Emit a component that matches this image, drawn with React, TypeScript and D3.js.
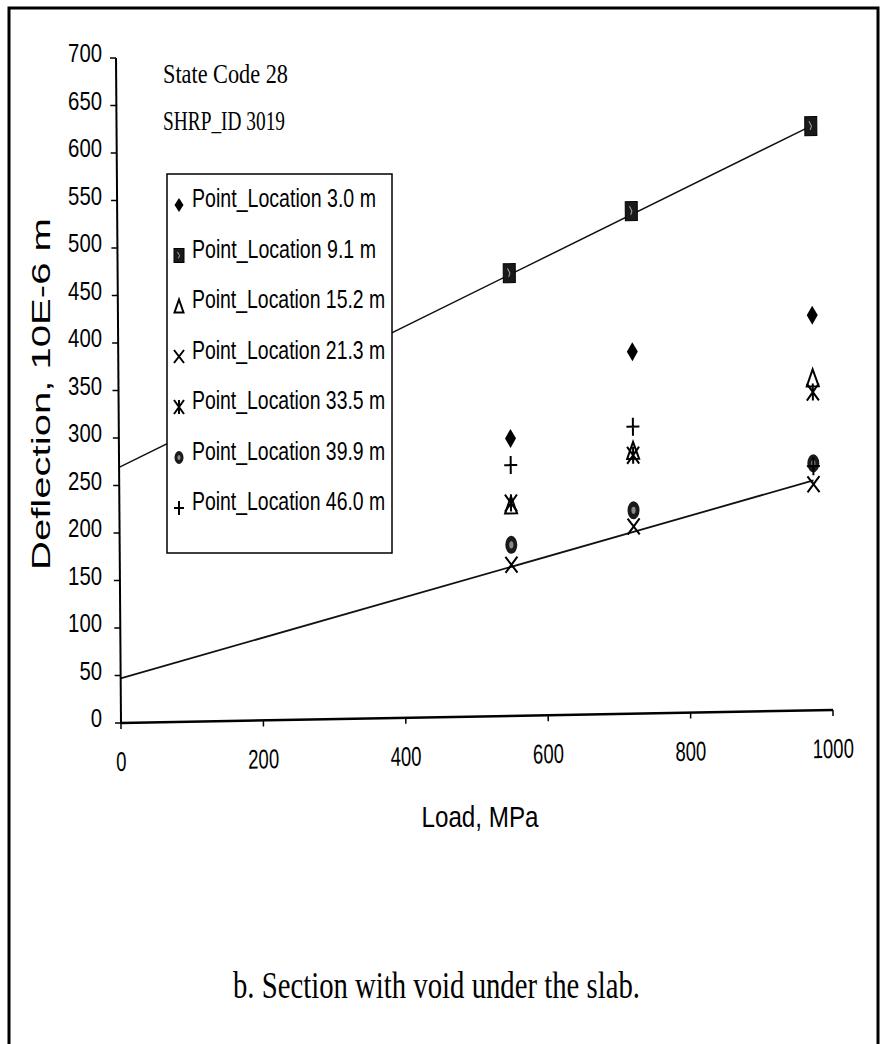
import React from 'react';
import * as d3 from 'd3';

// ---- data ----
const loads = [550, 722, 975];
const loc30 = [292, 381, 416];
const loc91 = [466, 529, 615];
const loc152 = [222, 277, 350];
const loc213 = [159, 197, 238];
const loc335 = [224, 272, 335];
const loc399 = [180, 214, 260];
const loc460 = [264, 302, 257];
const seriesLabels = [
  'Point_Location 3.0 m',
  'Point_Location 9.1 m',
  'Point_Location 15.2 m',
  'Point_Location 21.3 m',
  'Point_Location 33.5 m',
  'Point_Location 39.9 m',
  'Point_Location 46.0 m',
];
const seriesShapes = ['diamond', 'square', 'triangle', 'x', 'star', 'circle', 'plus'];
const trendLoads = [0, 975];
const trend91 = [269, 615];
const trend213 = [47, 242];
const yTickValues = [0, 50, 100, 150, 200, 250, 300, 350, 400, 450, 500, 550, 600, 650, 700];
const xTickValues = [0, 200, 400, 600, 800, 1000];

const seriesValues = [loc30, loc91, loc152, loc213, loc335, loc399, loc460];

// ---- layout ----
const W = 882;
const H = 1044;
const ox = 121;
const oy = 723;
const x = d3.scaleLinear().domain([0, 1000]).range([0, 712]);
const y = d3.scaleLinear().domain([0, 700]).range([0, -665]);
// scanned page is slightly skewed
const skewB = -13 / 712;
const skewC = 5 / 665;

const sans = 'Liberation Sans, Arial, sans-serif';
const serif = 'Liberation Serif, Times New Roman, serif';

function Marker({ shape, cx, cy, w, h }: { shape: string; cx: number; cy: number; w: number; h: number }) {
  const sw = 2;
  switch (shape) {
    case 'diamond':
      return <path d={`M${cx},${cy - h}L${cx + w},${cy}L${cx},${cy + h}L${cx - w},${cy}Z`} fill="#000" />;
    case 'square':
      return (
        <g>
          <rect x={cx - w} y={cy - h} width={2 * w} height={2 * h} fill="#1a1a1a" stroke="#000" strokeWidth={1} />
          <path d={`M${cx - w * 0.3},${cy - h * 0.5}L${cx + w * 0.1},${cy}L${cx - w * 0.1},${cy + h * 0.4}`} stroke="#aaa" strokeWidth={1} fill="none" />
        </g>
      );
    case 'triangle':
      return <path d={`M${cx},${cy - h}L${cx + w},${cy + h}L${cx - w},${cy + h}Z`} fill="none" stroke="#000" strokeWidth={sw} />;
    case 'x':
      return <path d={`M${cx - w},${cy - h}L${cx + w},${cy + h}M${cx + w},${cy - h}L${cx - w},${cy + h}`} stroke="#000" strokeWidth={sw} />;
    case 'star':
      return (
        <path
          d={`M${cx - w},${cy - h}L${cx + w},${cy + h}M${cx + w},${cy - h}L${cx - w},${cy + h}M${cx},${cy - h}L${cx},${cy + h}`}
          stroke="#000"
          strokeWidth={sw}
        />
      );
    case 'circle':
      return (
        <g>
          <ellipse cx={cx} cy={cy} rx={w} ry={h} fill="#1a1a1a" />
          <ellipse cx={cx} cy={cy} rx={w * 0.35} ry={h * 0.4} fill="#888" />
        </g>
      );
    case 'plus':
      return <path d={`M${cx - w},${cy}L${cx + w},${cy}M${cx},${cy - h}L${cx},${cy + h}`} stroke="#000" strokeWidth={sw} />;
    default:
      return null;
  }
}

const plotSize: Record<string, [number, number]> = {
  diamond: [5.5, 9.5],
  square: [6, 9.5],
  triangle: [6, 8.5],
  x: [6, 8],
  star: [6, 8.5],
  circle: [6, 9],
  plus: [6.5, 9],
};
const legendSize: Record<string, [number, number]> = {
  diamond: [4.5, 7],
  square: [5, 7],
  triangle: [4.5, 6.5],
  x: [5, 6.5],
  star: [5, 7],
  circle: [4.5, 6.5],
  plus: [5, 7],
};

export default function App() {
  const line = d3
    .line<number>()
    .x((_, i) => x(trendLoads[i]))
    .y((d) => y(d));

  const legendX = 167;
  const legendY = 174;
  const legendW = 225;
  const legendH = 379;
  const rowStep = 50.5;
  const firstBaseline = 207;

  return (
    <svg width={W} height={H} style={{ position: 'absolute', left: 0, top: 0, background: '#fff' }}>
      <rect x={0} y={0} width={W} height={H} fill="#fff" />
      {/* page frame */}
      <path d={`M9,${H + 5}L9,8L878,8L878,${H + 5}`} fill="none" stroke="#000" strokeWidth={3} />

      {/* plot (skewed frame) */}
      <g transform={`matrix(1,${skewB},${skewC},1,${ox},${oy})`}>
        {/* trend lines */}
        <path d={line(trend91) || ''} fill="none" stroke="#111" strokeWidth={1.5} />
        <path d={line(trend213) || ''} fill="none" stroke="#111" strokeWidth={1.8} />
        {/* axes */}
        <line x1={0} y1={y(0)} x2={0} y2={y(700)} stroke="#000" strokeWidth={2} />
        <line x1={0} y1={y(0)} x2={x(1000)} y2={y(0)} stroke="#000" strokeWidth={2.5} />
        {yTickValues.map((v) => (
          <line key={'yt' + v} x1={-6} x2={0} y1={y(v)} y2={y(v)} stroke="#000" strokeWidth={1.5} />
        ))}
        {xTickValues.map((v) => (
          <line key={'xt' + v} x1={x(v)} x2={x(v)} y1={0} y2={6} stroke="#000" strokeWidth={1.5} />
        ))}
        {xTickValues.map((v) => (
          <text
            key={'xl' + v}
            x={x(v)}
            y={48}
            textAnchor="middle"
            fontFamily={sans}
            fontSize={27}
            textLength={String(v).length * 10.3}
            lengthAdjust="spacingAndGlyphs"
            fill="#000"
          >
            {v}
          </text>
        ))}
        {/* data markers */}
        {seriesValues.map((vals, si) =>
          vals.map((v, i) => (
            <Marker
              key={`m${si}-${i}`}
              shape={seriesShapes[si]}
              cx={x(loads[i])}
              cy={y(v)}
              w={plotSize[seriesShapes[si]][0]}
              h={plotSize[seriesShapes[si]][1]}
            />
          ))
        )}
      </g>

      {/* y tick labels */}
      <g transform={`translate(${ox},${oy})`}>
        {yTickValues.map((v) => (
          <text
            key={'yl' + v}
            x={-19}
            y={y(v) + 4}
            textAnchor="end"
            fontFamily={sans}
            fontSize={25}
            textLength={String(v).length * 11.3}
            lengthAdjust="spacingAndGlyphs"
            fill="#000"
          >
            {v}
          </text>
        ))}
      </g>

      {/* legend */}
      <rect x={legendX} y={legendY} width={legendW} height={legendH} fill="#fff" stroke="#000" strokeWidth={1.5} />
      {seriesLabels.map((lab, i) => {
        const base = firstBaseline + i * rowStep;
        const s = seriesShapes[i];
        return (
          <g key={'lg' + i}>
            <Marker shape={s} cx={179} cy={base - 2} w={legendSize[s][0]} h={legendSize[s][1]} />
            <text
              x={192}
              y={base}
              fontFamily={sans}
              fontSize={26}
              textLength={lab.length * 9.2}
              lengthAdjust="spacingAndGlyphs"
              fill="#000"
            >
              {lab}
            </text>
          </g>
        );
      })}

      {/* annotations */}
      <text x={163} y={83} fontFamily={serif} fontSize={28} textLength={125} lengthAdjust="spacingAndGlyphs" fill="#000">
        State Code 28
      </text>
      <text x={163} y={130} fontFamily={serif} fontSize={28} textLength={122} lengthAdjust="spacingAndGlyphs" fill="#000">
        SHRP_ID 3019
      </text>

      {/* axis titles */}
      <text
        x={480}
        y={827}
        textAnchor="middle"
        fontFamily={sans}
        fontSize={29}
        textLength={117}
        lengthAdjust="spacingAndGlyphs"
        fill="#000"
      >
        Load, MPa
      </text>
      <text
        transform="translate(50,394) rotate(-90)"
        x={0}
        y={0}
        textAnchor="middle"
        fontFamily={sans}
        fontSize={25}
        textLength={352}
        lengthAdjust="spacingAndGlyphs"
        fill="#000"
      >
        Deflection, 10E-6 m
      </text>

      {/* caption */}
      <text x={233} y={998} fontFamily={serif} fontSize={38} textLength={407} lengthAdjust="spacingAndGlyphs" fill="#000">
        b.  Section with void under the slab.
      </text>
    </svg>
  );
}
